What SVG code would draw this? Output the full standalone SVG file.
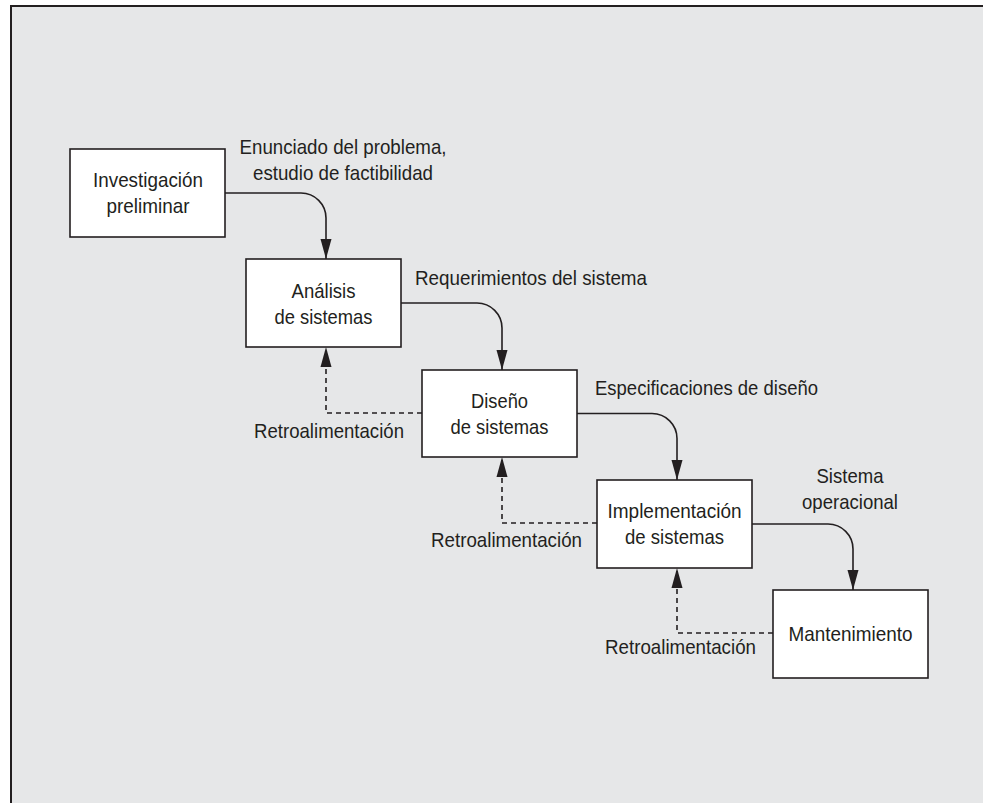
<svg xmlns="http://www.w3.org/2000/svg" width="983" height="803" viewBox="0 0 983 803">
<style>
  .page { fill: #ffffff; }
  .bg { fill: #e6e7e8; }
  .frame { stroke: #231f20; stroke-width: 2; fill: none; }
  .box { fill: #ffffff; stroke: #231f20; stroke-width: 1.6; }
  .t { font-family: "Liberation Sans", Arial, sans-serif; font-size: 21px; fill: #231f20; text-anchor: middle; }
  .flow { fill: none; stroke: #231f20; stroke-width: 1.6; marker-end: url(#arrow); }
  .fb { fill: none; stroke: #231f20; stroke-width: 1.6; stroke-dasharray: 5 4; marker-end: url(#arrow); }
</style>
<defs>
  <marker id="arrow" viewBox="0 0 20 12" refX="20" refY="6" markerWidth="20" markerHeight="12" markerUnits="userSpaceOnUse" orient="auto">
    <path d="M0,0.5 L20,6 L0,11.5 Z" fill="#231f20"/>
  </marker>
</defs>
<rect class="page" x="0" y="0" width="983" height="803"/>
<rect class="bg" x="11" y="6" width="972" height="797"/>
<path class="frame" d="M11,803 V6 H983"/>

<g id="connectors">
  <path class="flow" d="M225,193 H301 A25,25 0 0 1 326,218 V259"/>
  <path class="flow" d="M401,303 H477 A25,25 0 0 1 502,328 V370"/>
  <path class="flow" d="M577,413.5 H652 A25,25 0 0 1 677,438.5 V480"/>
  <path class="flow" d="M752,524 H828 A25,25 0 0 1 853,549 V590"/>
  <path class="fb" d="M422,413 H326 V347"/>
  <path class="fb" d="M597,523 H502 V457"/>
  <path class="fb" d="M773,633 H677 V568"/>
  <text class="t" x="343" y="154" textLength="207" lengthAdjust="spacingAndGlyphs">Enunciado del problema,</text>
  <text class="t" x="343" y="180" textLength="180" lengthAdjust="spacingAndGlyphs">estudio de factibilidad</text>
  <text class="t" x="531" y="285" textLength="232" lengthAdjust="spacingAndGlyphs">Requerimientos del sistema</text>
  <text class="t" x="706.5" y="394.5" textLength="223" lengthAdjust="spacingAndGlyphs">Especificaciones de diseño</text>
  <text class="t" x="850" y="483" textLength="67" lengthAdjust="spacingAndGlyphs">Sistema</text>
  <text class="t" x="850" y="509" textLength="96" lengthAdjust="spacingAndGlyphs">operacional</text>
  <text class="t" x="329" y="438" textLength="150" lengthAdjust="spacingAndGlyphs">Retroalimentación</text>
  <text class="t" x="506.5" y="547" textLength="151" lengthAdjust="spacingAndGlyphs">Retroalimentación</text>
  <text class="t" x="680.5" y="654" textLength="151" lengthAdjust="spacingAndGlyphs">Retroalimentación</text>
</g>

<g id="investigacion">
  <rect class="box" x="70" y="149" width="155" height="88"/>
  <text class="t" x="148" y="187" textLength="110" lengthAdjust="spacingAndGlyphs">Investigación</text>
  <text class="t" x="148" y="213" textLength="83" lengthAdjust="spacingAndGlyphs">preliminar</text>
</g>
<g id="analisis">
  <rect class="box" x="246" y="259" width="155" height="88"/>
  <text class="t" x="323.5" y="297.5" textLength="64" lengthAdjust="spacingAndGlyphs">Análisis</text>
  <text class="t" x="323.5" y="323.5" textLength="98" lengthAdjust="spacingAndGlyphs">de sistemas</text>
</g>
<g id="diseno">
  <rect class="box" x="422" y="370" width="155" height="87"/>
  <text class="t" x="499.5" y="408" textLength="57" lengthAdjust="spacingAndGlyphs">Diseño</text>
  <text class="t" x="499.5" y="434" textLength="98" lengthAdjust="spacingAndGlyphs">de sistemas</text>
</g>
<g id="implementacion">
  <rect class="box" x="597" y="480" width="155" height="88"/>
  <text class="t" x="674.5" y="518" textLength="134" lengthAdjust="spacingAndGlyphs">Implementación</text>
  <text class="t" x="674.5" y="544" textLength="99" lengthAdjust="spacingAndGlyphs">de sistemas</text>
</g>
<g id="mantenimiento">
  <rect class="box" x="773" y="590" width="155" height="88"/>
  <text class="t" x="850.5" y="641" textLength="124" lengthAdjust="spacingAndGlyphs">Mantenimiento</text>
</g>
</svg>
